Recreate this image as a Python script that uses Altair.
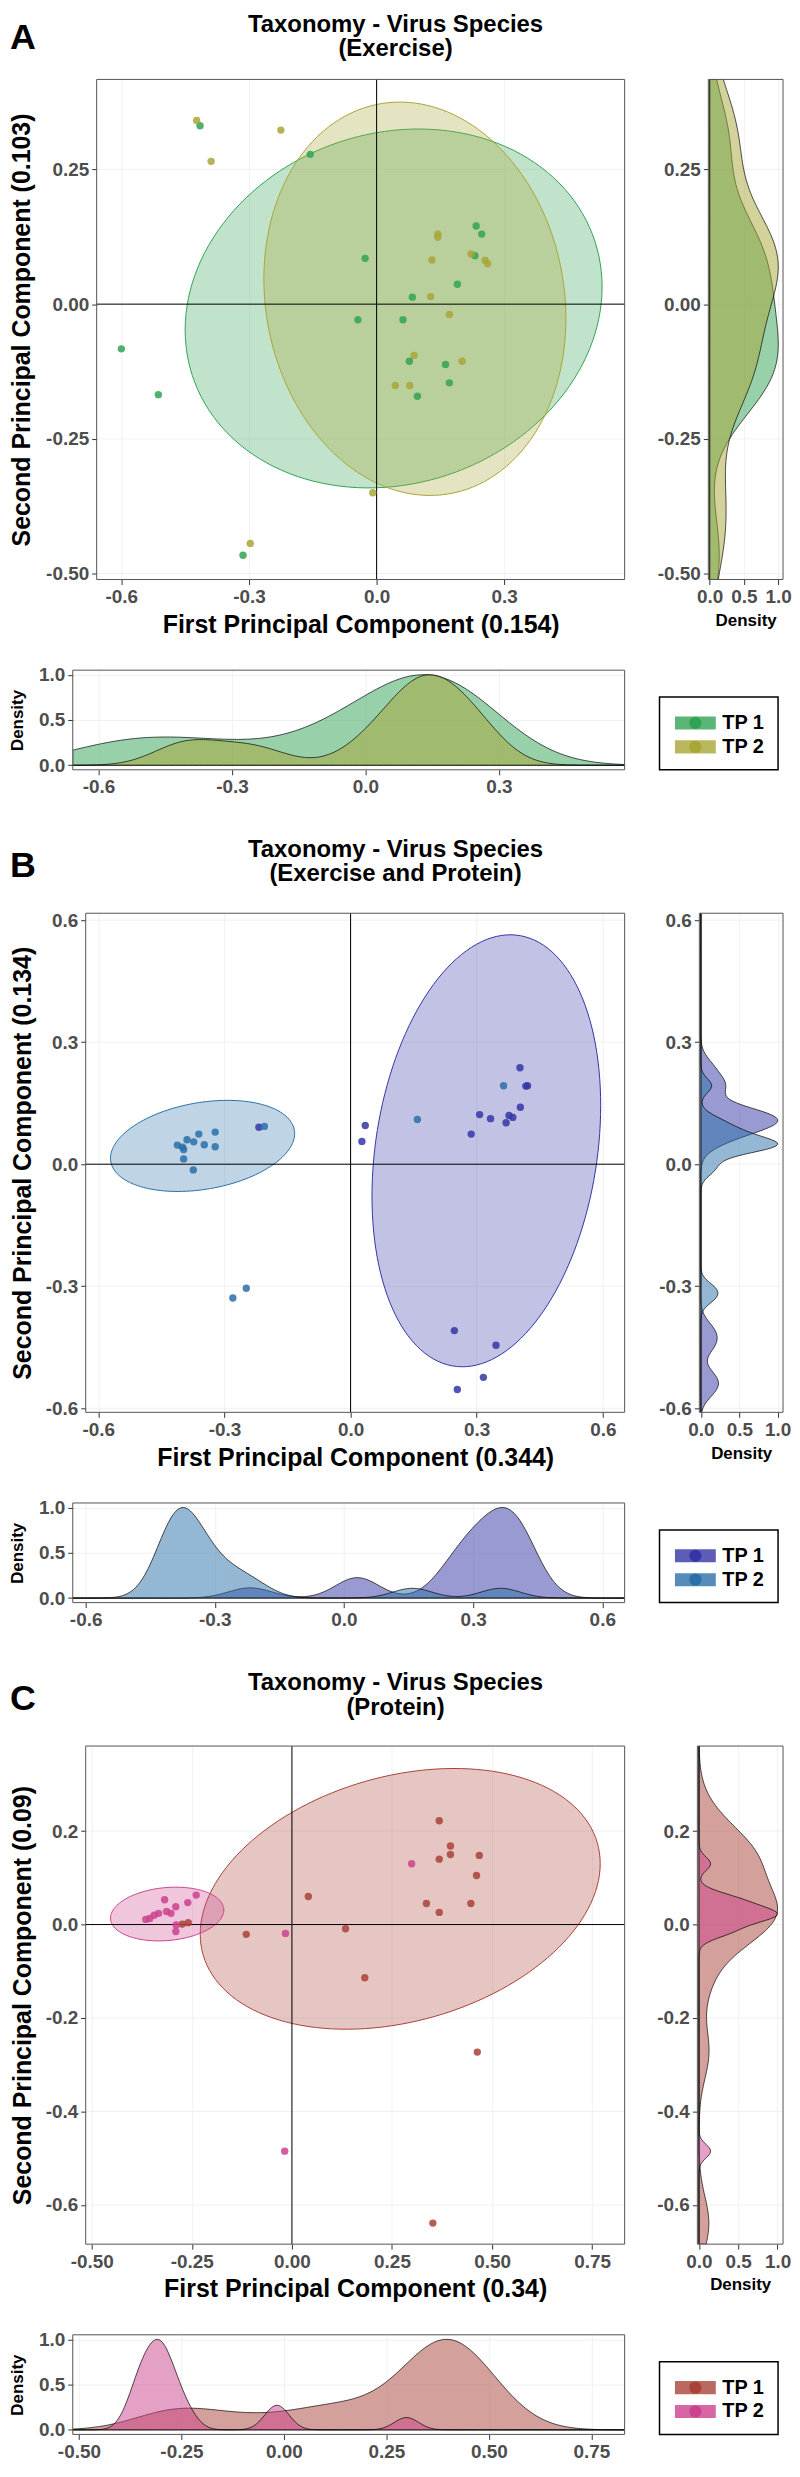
import numpy as np
import pandas as pd
import altair as alt

FONT = "Liberation Sans"
GRID = "#EDEDED"
BORDER = "#555555"

# ---------------- shared text ----------------
group_labels = ["TP 1", "TP 2"]
panel_letters = ["A", "B", "C"]
title_line1 = "Taxonomy - Virus Species"
title_line2 = ["(Exercise)", "(Exercise and Protein)", "(Protein)"]
x_titles = ["First Principal Component (0.154)", "First Principal Component (0.344)", "First Principal Component (0.34)"]
y_titles = ["Second Principal Component (0.103)", "Second Principal Component (0.134)", "Second Principal Component (0.09)"]
density_title = "Density"
density_ticks = [0.0, 0.5, 1.0]

# ---------------- panel A (Exercise) ----------------
a_tp1_x = [-0.415, -0.156, -0.027, 0.234, 0.247, 0.231, 0.190, 0.084, -0.044, 0.062,
           -0.600, -0.513, 0.077, 0.162, 0.171, 0.096, -0.314]
a_tp1_y = [0.331, 0.278, 0.085, 0.145, 0.130, 0.090, 0.037, 0.013, -0.029, -0.029,
           -0.083, -0.168, -0.106, -0.112, -0.146, -0.171, -0.466]
a_tp2_x = [-0.423, -0.225, -0.389, 0.144, 0.144, 0.222, 0.255, 0.261, 0.130, 0.127,
           0.171, 0.088, 0.201, 0.044, 0.078, -0.009, -0.297]
a_tp2_y = [0.341, 0.323, 0.265, 0.130, 0.124, 0.093, 0.081, 0.075, 0.082, 0.014,
           -0.019, -0.095, -0.106, -0.151, -0.151, -0.350, -0.444]
# ellipse read-offs: centre x, centre y, half-width, half-height, tilt (correlation)
a_ell_tp1 = [0.040, -0.008, 0.490, 0.333, 0.12]
a_ell_tp2 = [0.090, 0.010, 0.355, 0.365, -0.10]
a_colors = ["#31A354", "#A8A636"]
a_xdom = [-0.658, 0.583]
a_ydom = [-0.511, 0.417]
a_xticks = [-0.6, -0.3, 0.0, 0.3]
a_yticks = [-0.5, -0.25, 0.0, 0.25]

# ---------------- panel B (Exercise and Protein) ----------------
b_tp1_x = [-0.218, 0.035, 0.027, 0.403, 0.417, 0.421, 0.404, 0.307, 0.333, 0.377,
           0.386, 0.370, 0.287, 0.247, 0.346, 0.316, 0.254]
b_tp1_y = [0.091, 0.095, 0.056, 0.237, 0.192, 0.193, 0.140, 0.122, 0.112, 0.120,
           0.115, 0.102, 0.074, -0.409, -0.445, -0.524, -0.554]
b_tp2_x = [-0.412, -0.400, -0.397, -0.389, -0.373, -0.361, -0.348, -0.322, -0.322, -0.397,
           -0.374, -0.205, 0.159, 0.364, -0.280, -0.248]
b_tp2_y = [0.047, 0.042, 0.036, 0.060, 0.055, 0.074, 0.048, 0.079, 0.043, 0.013,
           -0.014, 0.093, 0.110, 0.193, -0.329, -0.305]
b_ell_tp1 = [0.323, 0.033, 0.272, 0.531, 0.21]
b_ell_tp2 = [-0.352, 0.045, 0.219, 0.112, 0.27]
b_colors = ["#3535A6", "#2A6FA8"]
b_xdom = [-0.630, 0.652]
b_ydom = [-0.610, 0.617]
b_xticks = [-0.6, -0.3, 0.0, 0.3, 0.6]
b_yticks = [-0.6, -0.3, 0.0, 0.3, 0.6]

# ---------------- panel C (Protein) ----------------
c_tp1_x = [-0.274, -0.259, -0.114, 0.041, 0.134, 0.182, 0.368, 0.396, 0.396, 0.368,
           0.468, 0.461, 0.336, 0.368, 0.447, 0.463, 0.352]
c_tp1_y = [0.001, 0.004, -0.021, 0.060, -0.009, -0.114, 0.222, 0.168, 0.150, 0.140,
           0.148, 0.105, 0.045, 0.026, 0.045, -0.273, -0.639]
c_tp2_x = [-0.365, -0.355, -0.344, -0.333, -0.318, -0.313, -0.302, -0.290, -0.260, -0.239,
           -0.289, -0.290, -0.016, 0.299, -0.018]
c_tp2_y = [0.011, 0.013, 0.020, 0.024, 0.053, 0.028, 0.024, 0.038, 0.047, 0.063,
           -0.001, -0.015, -0.019, 0.130, -0.485]
c_ell_tp1 = [0.2705, 0.055, 0.4995, 0.279, 0.27]
c_ell_tp2 = [-0.3115, 0.0225, 0.1415, 0.0575, 0.15]
c_colors = ["#A94238", "#CC418D"]
c_xdom = [-0.515, 0.831]
c_ydom = [-0.684, 0.382]
c_xticks = [-0.5, -0.25, 0.0, 0.25, 0.5, 0.75]
c_yticks = [-0.6, -0.4, -0.2, 0.0, 0.2]

DENS_SIDE_DOM = [-0.02, 1.07]
DENS_BOT_DOM = [-0.05, 1.05]

COL0_W = 554      # width of the left column cells (main plot / bottom density)
COL1_W = 86       # width of the right column cells (side density / legend)
X0 = 71           # page x of the left column origin
BOT_H = 100

PANELS = [
    dict(x=[a_tp1_x, a_tp2_x], y=[a_tp1_y, a_tp2_y], ell=[a_ell_tp1, a_ell_tp2], colors=a_colors,
         xdom=a_xdom, ydom=a_ydom, xticks=a_xticks, yticks=a_yticks, xfmt=".1f", yfmt=".2f",
         main_off=24, side_off=11, ytp=11, H=502, head=[-55, -31, -42], spacer=None),
    dict(x=[b_tp1_x, b_tp2_x], y=[b_tp1_y, b_tp2_y], ell=[b_ell_tp1, b_ell_tp2], colors=b_colors,
         xdom=b_xdom, ydom=b_ydom, xticks=b_xticks, yticks=b_yticks, xfmt=".1f", yfmt=".1f",
         main_off=13, side_off=2, ytp=10, H=501, head=[-63, -39, -47], spacer=-89),
    dict(x=[c_tp1_x, c_tp2_x], y=[c_tp1_y, c_tp2_y], ell=[c_ell_tp1, c_ell_tp2], colors=c_colors,
         xdom=c_xdom, ydom=c_ydom, xticks=c_xticks, yticks=c_yticks, xfmt=".2f", yfmt=".1f",
         main_off=13, side_off=0, ytp=10, H=500, head=[-63, -38, -47], spacer=-89),
]


def fmt_expr(f):
    return "datum.value < 0 ? '-' + format(-datum.value, '%s') : format(datum.value, '%s')" % (f, f)


def nrd0(v):
    v = np.asarray(v, dtype=float)
    sd = v.std(ddof=1)
    q75, q25 = np.percentile(v, [75, 25])
    lo = min(sd, (q75 - q25) / 1.34)
    if lo <= 0:
        lo = sd
    return float(0.9 * lo * len(v) ** -0.2)


def ellipse_frame(e):
    t = np.linspace(0, 2 * np.pi, 145)[:-1]
    d = np.arccos(e[4])
    return pd.DataFrame({"x": e[0] + e[2] * np.cos(t),
                         "y": e[1] + e[3] * np.cos(t - d),
                         "i": np.arange(len(t))})


ONE = pd.DataFrame({"b": [0]})


def border(L, W, H):
    return (alt.Chart(ONE).mark_rect(fillOpacity=0, stroke=BORDER, strokeWidth=1)
            .encode(x=alt.value(L), x2=alt.value(W), y=alt.value(0), y2=alt.value(H)))


def make_main(P, k):
    L, W, H = P["main_off"], COL0_W, P["H"]
    xs = alt.Scale(domain=P["xdom"], range=[L, W], nice=False, zero=False)
    ys = alt.Scale(domain=P["ydom"], nice=False, zero=False)
    xax = alt.Axis(values=P["xticks"], labelExpr=fmt_expr(P["xfmt"]), title=x_titles[k], titlePadding=6)
    yax = alt.Axis(values=P["yticks"], labelExpr=fmt_expr(P["yfmt"]), title=y_titles[k],
                   titlePadding=P["ytp"], offset=-L, grid=False)
    layers = [
        alt.Chart(pd.DataFrame({"t": P["yticks"]})).mark_rule(color=GRID, strokeWidth=0.8)
        .encode(y=alt.Y("t:Q", scale=ys, axis=yax), x=alt.value(L), x2=alt.value(W))
    ]
    for g in range(2):
        col = P["colors"][g]
        layers.append(
            alt.Chart(ellipse_frame(P["ell"][g]))
            .mark_line(interpolate="linear-closed", fill=col, fillOpacity=0.3, stroke=col,
                       strokeWidth=1, clip=True)
            .encode(x=alt.X("x:Q", scale=xs, axis=xax), y=alt.Y("y:Q", scale=ys, axis=yax),
                    order=alt.Order("i:Q"))
        )
    zdf = pd.DataFrame({"x": [0.0], "y": [0.0]})
    layers.append(alt.Chart(zdf).mark_rule(color="black", strokeWidth=1)
                  .encode(y=alt.Y("y:Q", scale=ys, axis=yax), x=alt.value(L), x2=alt.value(W)))
    layers.append(alt.Chart(zdf).mark_rule(color="black", strokeWidth=1)
                  .encode(x=alt.X("x:Q", scale=xs, axis=xax), y=alt.value(0), y2=alt.value(H)))
    for g in range(2):
        pdf = pd.DataFrame({"x": P["x"][g], "y": P["y"][g]})
        layers.append(
            alt.Chart(pdf).mark_circle(size=55, opacity=0.85, color=P["colors"][g])
            .encode(x=alt.X("x:Q", scale=xs, axis=xax), y=alt.Y("y:Q", scale=ys, axis=yax))
        )
    layers.append(border(L, W, H))
    # panel header (letter + two-line title) above the plot
    y1, y2, yl = P["head"]
    tdf = pd.DataFrame({"t1": [title_line1], "t2": [title_line2[k]], "L": [panel_letters[k]]})
    hb = alt.Chart(tdf)
    layers.append(hb.mark_text(align="left", baseline="middle", font=FONT, fontSize=36, fontWeight="bold",
                               color="black").encode(x=alt.value(8 - X0), y=alt.value(yl), text="L:N"))
    layers.append(hb.mark_text(align="center", baseline="middle", font=FONT, fontSize=24, fontWeight="bold",
                               color="black").encode(x=alt.value(395 - X0), y=alt.value(y1), text="t1:N"))
    layers.append(hb.mark_text(align="center", baseline="middle", font=FONT, fontSize=24, fontWeight="bold",
                               color="black").encode(x=alt.value(395 - X0), y=alt.value(y2), text="t2:N"))
    if P["spacer"] is not None:
        layers.append(alt.Chart(ONE).mark_rule(strokeOpacity=0, opacity=0)
                      .encode(x=alt.value(0), x2=alt.value(1), y=alt.value(P["spacer"])))
    return alt.layer(*layers).properties(width=W, height=H)


def make_side(P, k):
    L, W, H = P["side_off"], COL1_W, P["H"]
    ys = alt.Scale(domain=P["ydom"], nice=False, zero=False)
    ds = alt.Scale(domain=DENS_SIDE_DOM, range=[L, W], nice=False, zero=False)
    yax = alt.Axis(values=P["yticks"], labelExpr=fmt_expr(P["yfmt"]), title=None, offset=-L, grid=False)
    dax = alt.Axis(values=density_ticks, labelExpr=fmt_expr(".1f"), title=density_title,
                   titleFontSize=17, titlePadding=6)
    layers = [
        alt.Chart(pd.DataFrame({"t": P["yticks"]})).mark_rule(color=GRID, strokeWidth=0.8)
        .encode(y=alt.Y("t:Q", scale=ys, axis=yax), x=alt.value(L), x2=alt.value(W))
    ]
    for g in range(2):
        vals = P["y"][g]
        layers.append(
            alt.Chart(pd.DataFrame({"v": vals}))
            .transform_density("v", as_=["value", "density"], bandwidth=nrd0(vals),
                               extent=[float(P["ydom"][0]), float(P["ydom"][1])], steps=300)
            .transform_joinaggregate(dmax="max(density)")
            .transform_calculate(sd="datum.density / datum.dmax")
            .mark_area(orient="horizontal", fill=P["colors"][g], fillOpacity=0.5, stroke="black",
                       strokeWidth=0.7, clip=True)
            .encode(y=alt.Y("value:Q", scale=ys, axis=yax), x=alt.X("sd:Q", scale=ds, axis=dax))
        )
    layers.append(border(L, W, H))
    return alt.layer(*layers).properties(width=W, height=H)


def make_bottom(P, k):
    W, H = COL0_W, BOT_H
    xs = alt.Scale(domain=P["xdom"], range=[0, W], nice=False, zero=False)
    ds = alt.Scale(domain=DENS_BOT_DOM, nice=False, zero=False)
    xax = alt.Axis(values=P["xticks"], labelExpr=fmt_expr(P["xfmt"]), title=None)
    dax = alt.Axis(values=density_ticks, labelExpr=fmt_expr(".1f"), title=density_title,
                   titleFontSize=17, titlePadding=12)
    layers = []
    for g in range(2):
        vals = P["x"][g]
        layers.append(
            alt.Chart(pd.DataFrame({"v": vals}))
            .transform_density("v", as_=["value", "density"], bandwidth=nrd0(vals),
                               extent=[float(P["xdom"][0]), float(P["xdom"][1])], steps=300)
            .transform_joinaggregate(dmax="max(density)")
            .transform_calculate(sd="datum.density / datum.dmax")
            .mark_area(orient="vertical", fill=P["colors"][g], fillOpacity=0.5, stroke="black",
                       strokeWidth=0.7, clip=True)
            .encode(x=alt.X("value:Q", scale=xs, axis=xax), y=alt.Y("sd:Q", scale=ds, axis=dax))
        )
    layers.append(border(0, W, H))
    return alt.layer(*layers).properties(width=W, height=H)


RECT_PATH = "M-1,-0.32 L1,-0.32 L1,0.32 L-1,0.32 Z"


def make_legend(P):
    ysc = alt.Scale(domain=group_labels, range=[53, 77], padding=0)
    layers = [
        alt.Chart(ONE).mark_rect(fill="white", stroke="black", strokeWidth=1.5)
        .encode(x=alt.value(-38), x2=alt.value(81), y=alt.value(27), y2=alt.value(100))
    ]
    for g in range(2):
        ldf = pd.DataFrame({"label": [group_labels[g]]})
        col = P["colors"][g]
        Y = alt.Y("label:N", scale=ysc, axis=None)
        layers.append(alt.Chart(ldf).mark_point(shape=RECT_PATH, filled=True, size=1681, opacity=0.8,
                                                color=col, strokeWidth=0)
                      .encode(x=alt.value(-2), y=Y))
        layers.append(alt.Chart(ldf).mark_circle(size=150, opacity=1, color=col)
                      .encode(x=alt.value(-2), y=Y))
        layers.append(alt.Chart(ldf).mark_text(align="left", baseline="middle", font=FONT, fontSize=20,
                                               fontWeight="bold", color="black")
                      .encode(x=alt.value(25), y=Y, text="label:N"))
    return alt.layer(*layers).properties(width=COL1_W, height=BOT_H)


cells = []
for k, P in enumerate(PANELS):
    cells += [make_main(P, k), make_side(P, k), make_bottom(P, k), make_legend(P)]

chart = (
    alt.concat(*cells, columns=2, spacing={"row": 28, "column": 31})
    .properties(padding=0, background="white")
    .configure_axis(labelFont=FONT, labelFontSize=19, labelFontWeight="bold", labelColor="#4D4D4D",
                    titleFont=FONT, titleFontSize=25, titleFontWeight="bold", titleColor="black",
                    tickColor="#333333", tickSize=5, tickWidth=1, labelPadding=3, domain=False,
                    gridColor=GRID, gridWidth=0.8, labelFlush=False, labelOverlap=False)
    .configure_view(stroke="transparent", strokeWidth=0)
)

chart.save("out.html", embed_options={"renderer": "svg", "actions": False})
